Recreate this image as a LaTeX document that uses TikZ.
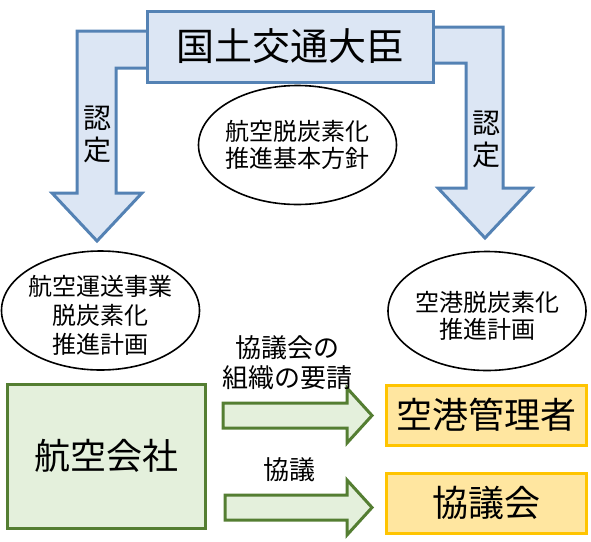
\documentclass[tikz,border=0pt]{standalone}
\usepackage{fontspec}
\newfontfamily\jpfont{Noto Sans CJK JP}
\usepackage{tikz}
\usetikzlibrary{shapes.geometric}

\definecolor{minblue}{RGB}{84,130,180}
\definecolor{minfill}{RGB}{220,230,244}
\definecolor{cogreen}{RGB}{84,126,50}
\definecolor{cofill}{RGB}{228,240,220}
\definecolor{apgold}{RGB}{255,196,0}
\definecolor{apfill}{RGB}{255,230,160}

\tikzset{
  fs/.style 2 args={font=\jpfont\fontsize{#1}{#2}\selectfont},
  bluebox/.style={draw=minblue, fill=minfill, line width=3pt, line join=miter},
  greenbox/.style={draw=cogreen, fill=cofill, line width=3pt, line join=miter},
  goldbox/.style={draw=apgold, fill=apfill, line width=3pt, minimum width=200pt, minimum height=60pt, fs={36}{42}},
  plan/.style={ellipse, draw, line width=1.6pt, minimum width=198pt, minimum height=119pt},
  plantext/.style={align=center, fs={24}{#1}},
}

\begin{document}
\begin{tikzpicture}[x=1pt, y=-1pt]
	\useasboundingbox (0,0) rectangle (591,541);
	% 認定 arrows
	\draw[bluebox] (160,31) -- (77,31) -- (77,193) -- (52,193) -- (97,241) -- (142,193) -- (116,193) -- (116,68) -- (160,68);
	\draw[bluebox] (420,27) -- (503,27) -- (503,188) -- (532,188) -- (485,238) -- (438,188) -- (466,188) -- (466,63) -- (420,63);
	\node[bluebox, minimum width=286pt, minimum height=71pt, fs={38}{44}] (minister) at (290,46.5) {国土交通大臣};
	\node[align=center, fs={28}{32}] (certL) at (97.5,134) {認\\定};
	\node[align=center, fs={28}{32}] (certR) at (486.5,139) {認\\定};
	\node[plan, label={[plantext=27]center:{航空脱炭素化\\推進基本方針}}] (policy) at (297.5,145) {};
	\node[plan, label={[plantext=29, yshift=-5pt]center:{航空運送事業\\脱炭素化\\推進計画}}] (airplan) at (100.5,310.5) {};
	\node[plan, label={[plantext=27, yshift=-5pt]center:{空港脱炭素化\\推進計画}}] (portplan) at (487,311) {};
	% lower part
	\node[greenbox, minimum width=198pt, minimum height=144pt, fs={36}{42}] (airline) at (106,456) {航空会社};
	\node[goldbox] (portop) at (486,415) {空港管理者};
	\node[goldbox] (council) at (486,503) {協議会};
	\draw[greenbox] (223,403) -- (347,403) -- (347,388) -- (372,415.5) -- (347,443) -- (347,428) -- (223,428) -- cycle;
	\draw[greenbox] (225,495) -- (347,495) -- (347,480) -- (372,507.5) -- (347,535) -- (347,520) -- (225,520) -- cycle;
	\node[align=center, fs={26}{30}] (reqlabel) at (287,363) {協議会の\\組織の要請};
	\node[fs={26}{30}] (talklabel) at (289,470) {協議};
\end{tikzpicture}
\end{document}
